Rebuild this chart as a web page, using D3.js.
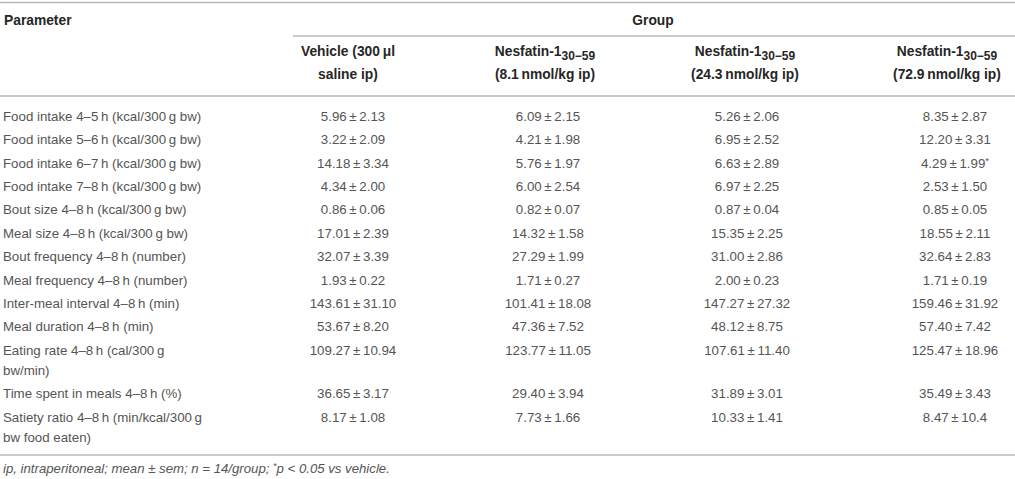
<!DOCTYPE html>
<html>
<head>
<meta charset="utf-8">
<script src="https://cdn.jsdelivr.net/npm/d3@7"></script>
<style>
  body { margin: 0; background: #fff; }
  text { font-family: "Liberation Sans", Arial, sans-serif; }
</style>
</head>
<body>
<script>
// table content
const parameters = [
  "Food intake 4–5\u2009h (kcal/300\u2009g bw)",
  "Food intake 5–6\u2009h (kcal/300\u2009g bw)",
  "Food intake 6–7\u2009h (kcal/300\u2009g bw)",
  "Food intake 7–8\u2009h (kcal/300\u2009g bw)",
  "Bout size 4–8\u2009h (kcal/300\u2009g bw)",
  "Meal size 4–8\u2009h (kcal/300\u2009g bw)",
  "Bout frequency 4–8\u2009h (number)",
  "Meal frequency 4–8\u2009h (number)",
  "Inter-meal interval 4–8\u2009h (min)",
  "Meal duration 4–8\u2009h (min)",
  "Eating rate 4–8\u2009h (cal/300\u2009g|bw/min)",
  "Time spent in meals 4–8\u2009h (%)",
  "Satiety ratio 4–8\u2009h (min/kcal/300\u2009g|bw food eaten)"
];

const groupNames = ["Vehicle (300\u2009μl", "Nesfatin-1", "Nesfatin-1", "Nesfatin-1"];
const groupSubs  = ["", "30−59", "30−59", "30−59"];
const groupDoses = ["saline ip)", "(8.1\u2009nmol/kg ip)", "(24.3\u2009nmol/kg ip)", "(72.9\u2009nmol/kg ip)"];

const vehicleMean = ["5.96","3.22","14.18","4.34","0.86","17.01","32.07","1.93","143.61","53.67","109.27","36.65","8.17"];
const vehicleSem  = ["2.13","2.09","3.34","2.00","0.06","2.39","3.39","0.22","31.10","8.20","10.94","3.17","1.08"];
const nes81Mean   = ["6.09","4.21","5.76","6.00","0.82","14.32","27.29","1.71","101.41","47.36","123.77","29.40","7.73"];
const nes81Sem    = ["2.15","1.98","1.97","2.54","0.07","1.58","1.99","0.27","18.08","7.52","11.05","3.94","1.66"];
const nes243Mean  = ["5.26","6.95","6.63","6.97","0.87","15.35","31.00","2.00","147.27","48.12","107.61","31.89","10.33"];
const nes243Sem   = ["2.06","2.52","2.89","2.25","0.04","2.25","2.86","0.23","27.32","8.75","11.40","3.01","1.41"];
const nes729Mean  = ["8.35","12.20","4.29","2.53","0.85","18.55","32.64","1.71","159.46","57.40","125.47","35.49","8.47"];
const nes729Sem   = ["2.87","3.31","1.99","1.50","0.05","2.11","2.83","0.19","31.92","7.42","18.96","3.43","10.4"];
// significance vs vehicle: [group index, row index]
const starred = [[3, 2]];

const footnote = ["ip, intraperitoneal; mean ± sem; n = 14/group; ", "*", "p < 0.05 vs vehicle."];

const W = 1015, H = 479;
const lineColor = "#b8b8b8";
const textColor = "#555";
const headColor = "#262626";
const fs = 13.3;

const means = [vehicleMean, nes81Mean, nes243Mean, nes729Mean];
const sems = [vehicleSem, nes81Sem, nes243Sem, nes729Sem];

const svg = d3.select("body").append("svg")
  .attr("width", W).attr("height", H);

// column centres (values and headings sit slightly apart in the source)
const xVal = d3.scaleLinear().domain([0, 1, 2, 3]).range([353, 548, 747, 955]);
const xHead = d3.scaleLinear().domain([0, 1, 2, 3]).range([348, 545, 745, 947]);

// row positions: single line pitch and extra wrapped line
const pitch = 23.4, wrap = 20;
const rows = parameters.map(p => p.split("|"));
let acc = 0;
const rowOffset = rows.map(r => { const o = acc; acc += pitch + (r.length - 1) * wrap; return o; });
const y = d3.scaleLinear().domain([0, 1]).range([116, 117]);

function hline(yy, x0, x1) {
  svg.append("line")
    .attr("x1", x0).attr("x2", x1)
    .attr("y1", yy).attr("y2", yy)
    .attr("stroke", lineColor).attr("stroke-width", 1.6);
}

hline(2.5, 0, W);
hline(36, 293, W);
hline(96, 0, W);
hline(455, 0, W);

// header
svg.append("text")
  .attr("x", 4).attr("y", 20 + 5)
  .attr("font-size", 13.8).attr("font-weight", "bold")
  .attr("fill", headColor)
  .text("Parameter");

svg.append("text")
  .attr("x", 653).attr("y", 20 + 5)
  .attr("text-anchor", "middle")
  .attr("font-size", 13.8).attr("font-weight", "bold")
  .attr("fill", headColor)
  .text("Group");

const head = svg.selectAll(".head")
  .data(groupNames)
  .enter().append("g")
  .attr("class", "head")
  .attr("font-size", 13.8).attr("font-weight", "bold")
  .attr("fill", headColor)
  .attr("text-anchor", "middle");

head.append("text")
  .attr("x", (d, i) => xHead(i))
  .attr("y", 56)
  .each(function(d, i) {
    const t = d3.select(this);
    t.append("tspan").text(d);
    if (groupSubs[i]) {
      t.append("tspan").attr("font-size", 12).attr("dy", 4).text(groupSubs[i]);
    }
  });

head.append("text")
  .attr("x", (d, i) => xHead(i))
  .attr("y", 79)
  .text((d, i) => groupDoses[i]);

// parameter labels
const lab = svg.selectAll(".param")
  .data(rows)
  .enter().append("text")
  .attr("class", "param")
  .attr("font-size", fs)
  .attr("fill", textColor);

lab.selectAll("tspan")
  .data((d, i) => d.map(line => ({ line, i })))
  .enter().append("tspan")
  .attr("x", 3)
  .attr("y", (d, j) => y(rowOffset[d.i]) + j * wrap + 4.7)
  .text(d => d.line);

// values
means.forEach((col, g) => {
  const cells = svg.selectAll(".v" + g)
    .data(col)
    .enter().append("text")
    .attr("class", "v" + g)
    .attr("x", xVal(g))
    .attr("y", (d, i) => y(rowOffset[i]) + 4.7)
    .attr("text-anchor", "middle")
    .attr("font-size", fs)
    .attr("fill", textColor);
  cells.append("tspan").text((d, i) => d + "\u2009±\u2009" + sems[g][i]);
  cells.filter((d, i) => starred.some(s => s[0] === g && s[1] === i))
    .append("tspan").attr("font-size", 9.5).attr("dy", -4).text("*");
});

// footnote
const fn = svg.append("text")
  .attr("x", 3).attr("y", 468 + 4.5)
  .attr("font-size", 13.2).attr("font-style", "italic")
  .attr("fill", textColor);
fn.append("tspan").text(footnote[0]);
fn.append("tspan").attr("font-size", 9).attr("dy", -4).text(footnote[1]);
fn.append("tspan").attr("dy", 4).text(footnote[2]);
</script>
</body>
</html>
